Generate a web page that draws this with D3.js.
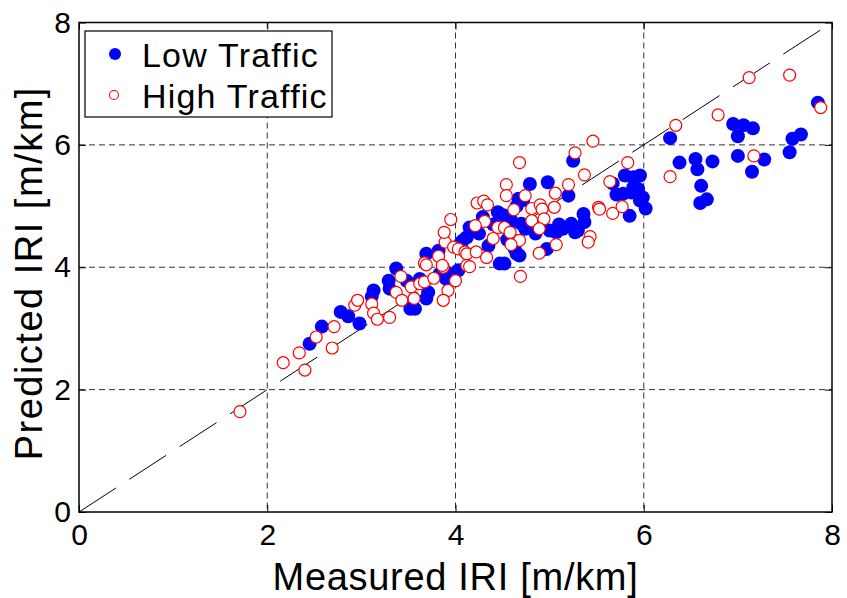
<!DOCTYPE html>
<html>
<head>
<meta charset="utf-8">
<style>
  body { margin: 0; background: white; font-family: Arial, "Liberation Sans", sans-serif; }
  svg { display: block; }
</style>
<script src="https://cdn.jsdelivr.net/npm/d3@7"></script>
</head>
<body>
<svg id="chart" width="847" height="598"></svg>
<script>
// Low traffic sections [measured, predicted]
let lowTraffic = [
  [2.45,2.75],[2.58,3.03],[2.78,3.27],[2.86,3.20],[2.98,3.08],[3.13,3.62],[3.11,3.52],
  [3.29,3.78],[3.37,3.98],[3.30,3.65],[3.48,3.78],[3.52,3.32],[3.57,3.32],[3.62,3.81],
  [3.69,3.49],[3.71,3.59],[3.69,4.22],[3.82,4.27],[3.83,3.89],[3.90,3.92],[3.90,3.81],
  [4.03,3.95],[4.08,4.44],[4.79,5.36],[4.98,5.39],[5.20,5.17],[4.67,5.12],[4.65,5.00],
  [4.70,4.71],[4.74,4.63],[4.51,4.85],[4.29,4.82],[4.15,4.65],[4.12,4.49],[4.06,4.41],
  [4.63,4.30],[4.68,4.19],[4.47,4.06],[4.52,4.06],[4.97,4.30],[5.07,4.57],[5.14,4.63],
  [5.23,4.71],[5.36,4.87],[5.37,4.74],[5.27,4.57],[5.30,4.60],[5.25,5.74],[5.80,5.50],
  [5.89,5.47],[5.67,5.37],[5.71,5.19],[5.78,5.20],[5.87,5.22],[5.94,5.28],[5.85,4.84],
  [5.96,5.09],[7.85,6.69],[6.28,6.11],[6.95,6.34],[7.06,6.32],[7.16,6.27],[7.00,6.14],
  [7.67,6.17],[7.58,6.10],[7.55,5.88],[7.00,5.82],[7.28,5.76],[7.15,5.56],[6.38,5.71],
  [6.55,5.77],[6.57,5.60],[6.73,5.73],[6.61,5.33],[6.60,5.05],[6.67,5.11],[5.96,5.50],
  [5.89,5.31],[5.99,5.14],[6.02,4.96],[4.72,5.10],[4.40,4.70],[4.60,4.75],[4.35,4.35],
  [4.55,4.45],[4.65,4.22],[5.10,4.70],[4.25,4.55],[4.45,4.90],[4.85,4.55],[5.00,4.60]
]

// High traffic sections [measured, predicted]
let highTraffic = [
  [1.71,1.64],[2.17,2.44],[2.34,2.60],[2.40,2.32],[2.52,2.86],[2.71,3.03],[2.69,2.68],
  [2.93,3.38],[2.96,3.46],[3.11,3.40],[3.13,3.25],[3.17,3.15],[3.30,3.18],[3.42,3.85],
  [3.37,3.59],[3.53,3.68],[3.43,3.46],[3.56,3.49],[3.62,3.73],[3.67,3.76],[3.77,3.82],
  [3.67,4.07],[3.69,4.04],[3.82,4.18],[3.89,4.41],[3.87,4.00],[4.00,3.78],[3.92,3.62],
  [3.87,3.46],[3.88,4.57],[3.95,4.78],[3.98,4.33],[4.03,4.30],[4.10,4.25],[4.12,4.22],
  [4.12,4.03],[4.68,5.71],[4.54,5.35],[5.20,5.35],[5.37,5.51],[4.54,5.17],[4.74,5.17],
  [5.06,5.21],[4.23,5.05],[4.30,5.08],[4.34,5.02],[4.62,4.94],[4.81,4.96],[4.90,5.02],
  [4.92,4.95],[5.05,4.98],[4.81,4.76],[4.94,4.79],[4.89,4.63],[4.31,4.75],[4.21,4.68],
  [4.45,4.65],[4.52,4.65],[4.40,4.47],[4.58,4.57],[4.68,4.44],[4.59,4.37],[4.15,4.01],
  [4.89,4.23],[5.07,4.37],[5.43,4.50],[5.41,4.41],[4.69,3.85],[5.52,4.98],[5.46,6.06],
  [5.27,5.87],[5.83,5.71],[5.64,5.40],[5.53,4.95],[5.67,4.88],[5.77,4.99],[7.88,6.61],
  [7.55,7.14],[7.12,7.10],[6.79,6.49],[6.34,6.32],[7.17,5.82],[6.28,5.48],[4.33,4.16],
  [4.22,4.25],[3.86,4.03]
]

let ticks = [0, 2, 4, 6, 8]
let legendLabels = ["Low Traffic", "High Traffic"]

let margin = {left: 79, right: 15, top: 22.5, bottom: 86}
let width = 847
let height = 598
let w = width - margin.left - margin.right
let h = height - margin.top - margin.bottom

let svg = d3.select("#chart")
let g = svg.append("g").attr("transform", `translate(${margin.left},${margin.top})`)

let x = d3.scaleLinear().domain([0, 8]).range([0, w])
let y = d3.scaleLinear().domain([0, 8]).range([h, 0])

// grid
g.append("g").selectAll("line").data(ticks.slice(1, -1)).enter().append("line")
  .attr("x1", d => x(d)).attr("x2", d => x(d)).attr("y1", 0).attr("y2", h)
  .attr("stroke", "#333").attr("stroke-width", 1).attr("stroke-dasharray", "6,4")
g.append("g").selectAll("line").data(ticks.slice(1, -1)).enter().append("line")
  .attr("y1", d => y(d)).attr("y2", d => y(d)).attr("x1", 0).attr("x2", w)
  .attr("stroke", "#333").attr("stroke-width", 1).attr("stroke-dasharray", "6,4")

// 1:1 line
g.append("line")
  .attr("x1", x(0)).attr("y1", y(0)).attr("x2", x(8)).attr("y2", y(8))
  .attr("stroke", "black").attr("stroke-width", 1).attr("stroke-dasharray", "44,16")

// points
g.append("g").selectAll("circle").data(lowTraffic).enter().append("circle")
  .attr("cx", d => x(d[0])).attr("cy", d => y(d[1])).attr("r", 7)
  .attr("fill", "#0000ff")
g.append("g").selectAll("circle").data(highTraffic).enter().append("circle")
  .attr("cx", d => x(d[0])).attr("cy", d => y(d[1])).attr("r", 6)
  .attr("fill", "white").attr("stroke", "#ff0000").attr("stroke-width", 1.2)

// axes
let xAxis = d3.axisBottom(x).tickValues(ticks).tickSize(-7).tickPadding(12)
let yAxis = d3.axisLeft(y).tickValues(ticks).tickSize(-7).tickPadding(8)
let gx = g.append("g").attr("transform", `translate(0,${h})`).call(xAxis)
let gy = g.append("g").call(yAxis)
for (let a of [gx, gy]) {
  a.select(".domain").remove()
  a.selectAll("line").attr("stroke", "black")
  a.selectAll("text").attr("font-size", 30).attr("fill", "black")
    .attr("font-family", "Arial, 'Liberation Sans', sans-serif")
}
gx.selectAll("text").attr("dy", "0.71em")
g.append("g").attr("transform", `translate(0,0)`).call(d3.axisTop(x).tickValues(ticks).tickSize(-7).tickFormat(""))
  .call(a => a.select(".domain").remove())
g.append("g").attr("transform", `translate(${w},0)`).call(d3.axisRight(y).tickValues(ticks).tickSize(-7).tickFormat(""))
  .call(a => a.select(".domain").remove())

g.append("rect").attr("width", w).attr("height", h)
  .attr("fill", "none").attr("stroke", "black").attr("stroke-width", 1.5)

// axis labels
svg.append("text")
  .attr("x", margin.left + w / 2).attr("y", 590)
  .attr("text-anchor", "middle").attr("font-size", 38).attr("letter-spacing", 0.7)
  .text("Measured IRI [m/km]")
svg.append("text")
  .attr("transform", `translate(42,${margin.top + h / 2 + 6}) rotate(-90)`)
  .attr("text-anchor", "middle").attr("font-size", 38).attr("letter-spacing", 1.5)
  .text("Predicted IRI [m/km]")

// legend
let lg = svg.append("g")
lg.append("rect").attr("x", 85).attr("y", 31).attr("width", 247).attr("height", 86)
  .attr("fill", "white").attr("stroke", "black").attr("stroke-width", 1.2)
lg.append("circle").attr("cx", 115).attr("cy", 54).attr("r", 6).attr("fill", "#0000ff")
lg.append("circle").attr("cx", 114).attr("cy", 95).attr("r", 4.5)
  .attr("fill", "white").attr("stroke", "#ff0000").attr("stroke-width", 1.1)
lg.selectAll("text").data(legendLabels).enter().append("text")
  .attr("x", 142).attr("y", (d, i) => 66.5 + i * 41.5)
  .attr("font-size", 34).attr("letter-spacing", 1.2)
  .text(d => d)
</script>
</body>
</html>
